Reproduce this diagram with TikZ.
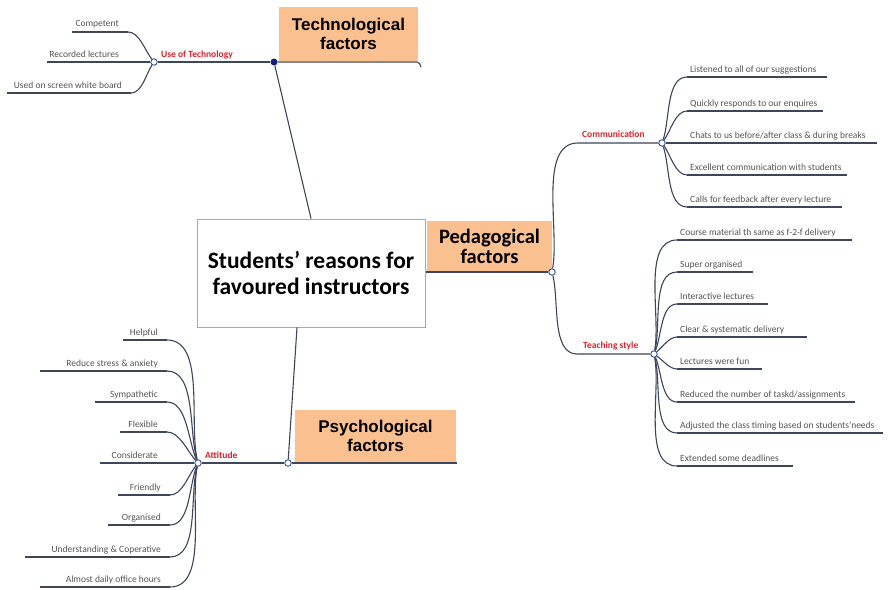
\documentclass[tikz,border=0pt]{standalone}
\usepackage{fontspec}
\setmainfont{Carlito}
\newfontfamily\hdr{Liberation Sans}
\definecolor{leafc}{RGB}{85,85,85}
\definecolor{linec}{RGB}{62,70,92}
\definecolor{redc}{RGB}{222,32,42}
\definecolor{orangec}{RGB}{250,192,143}
\definecolor{hubc}{RGB}{48,80,165}
\definecolor{dotc}{RGB}{22,32,120}
\definecolor{boxc}{RGB}{170,170,170}
% right-hand leaf: name, hub, hx, hy, x0, x1, y, text
\newcommand\leafR[8]{%
  \pgfmathsetmacro\leafang{atan2(#4-#7,(#5-#3)*0.9)}%
  \coordinate (#1s) at (#5,#7);
  \coordinate (#1e) at (#6,#7);
  \node[leaf, anchor=base west] (#1) at (#5+3,#7-5) {#8};
  \draw[branch] (#1s) -- (#1e);
  \draw[branch] (#2) to[out=\leafang, in=180, looseness=0.8] (#1s);
}
% left-hand leaf: name, hub, hx, hy, x0, x1, y, text
\newcommand\leafL[8]{%
  \pgfmathsetmacro\leafang{atan2(#4-#7,(#6-#3)*0.9)}%
  \coordinate (#1s) at (#5,#7);
  \coordinate (#1e) at (#6,#7);
  \node[leaf, anchor=base east] (#1) at (#6-9,#7-5) {#8};
  \draw[branch] (#1s) -- (#1e);
  \draw[branch] (#2) to[out=\leafang, in=0, looseness=0.8] (#1e);
}
\begin{document}
\begin{tikzpicture}[x=1pt,y=-1pt,
  branch/.style={draw=linec, line width=1.1pt},
  leaf/.style={font=\fontsize{9.5}{11}\selectfont, text=leafc, inner sep=0pt},
  cat/.style={font=\bfseries\fontsize{9.5}{11}\selectfont, text=redc, inner sep=0pt},
  hub/.style={circle, draw=hubc, fill=white, line width=0.9pt, minimum size=6.5pt, inner sep=0pt},
  factor/.style={fill=orangec, align=center, inner sep=0pt},
  hdrtext/.style={font=\hdr\bfseries\fontsize{17}{19}\selectfont},
]
\useasboundingbox[fill=white] (0,0) rectangle (888,589);

% central topic and factor boxes
\node[draw=boxc, line width=1pt, fill=white, minimum width=228pt, minimum height=108pt,
      align=center, font=\bfseries\fontsize{23.5}{26}\selectfont] (center) at (311,273)
      {Students’ reasons for\\favoured instructors};
\node[factor, hdrtext, minimum width=139pt, minimum height=54pt] (tech) at (348.5,34)
      {Technological\\factors};
\node[factor, font=\bfseries\fontsize{20.5}{20}\selectfont, minimum width=125pt, minimum height=51pt] (ped) at (489.5,246.5)
      {Pedagogical\\factors};
\node[factor, hdrtext, minimum width=161pt, minimum height=52pt] (psych) at (375.5,436)
      {Psychological\\factors};

% hubs
\node[circle, fill=dotc, minimum size=7pt, inner sep=0pt] (techdot) at (274,62) {};
\node[hub] (pedhub) at (552,272) {};
\node[hub] (psychhub) at (288,463) {};
\node[hub] (usetech) at (154,62) {};
\node[hub] (att) at (198,463) {};
\node[hub] (comm) at (662,143) {};
\node[hub] (teach) at (654,354) {};

% main connectors
\coordinate (techend) at (417,62);
\coordinate (techtail) at (421,67);
\coordinate (psychend) at (457,463);
\draw[branch] (techdot) -- (techend) to[out=0,in=110] (techtail);
\draw[branch] (techdot) -- (center.north);
\draw[branch] ([xshift=-14pt]center.south) -- (psychhub);
\draw[branch] (pedhub -| center.east) -- (pedhub);
\draw[branch] (psychhub) -- (psychend);

% category branches
\node[cat, anchor=base west] (usetechlbl) at (161,57) {Use of Technology};
\draw[branch] (techdot) -- (usetech);
\node[cat, anchor=base west] (attlbl) at (205,458) {Attitude};
\draw[branch] (psychhub) -- (att);
\coordinate (commS) at (578,143);
\coordinate (teachS) at (577,354);
\node[cat, anchor=base west] (commlbl) at (582,137) {Communication};
\node[cat, anchor=base west] (teachlbl) at (583,348) {Teaching style};
\draw[branch] (pedhub) to[out=80,in=180,looseness=0.8] (commS) -- (comm);
\draw[branch] (pedhub) to[out=-76,in=180,looseness=0.8] (teachS) -- (teach);

% communication leaves
\leafR{c1}{comm}{662}{143}{687}{827}{77}{Listened to all of our suggestions}
\leafR{c2}{comm}{662}{143}{687}{823}{111}{Quickly responds to our enquires}
\leafR{c3}{comm}{662}{143}{687}{877}{143}{Chats to us before/after class \& during breaks}
\leafR{c4}{comm}{662}{143}{687}{847}{175}{Excellent communication with students}
\leafR{c5}{comm}{662}{143}{687}{842}{207}{Calls for feedback after every lecture}

% teaching style leaves
\leafR{t1}{teach}{654}{354}{677}{852}{240}{Course material th same as f-2-f delivery}
\leafR{t2}{teach}{654}{354}{677}{753}{272}{Super organised}
\leafR{t3}{teach}{654}{354}{677}{768}{304}{Interactive lectures}
\leafR{t4}{teach}{654}{354}{677}{807}{337}{Clear \& systematic delivery}
\leafR{t5}{teach}{654}{354}{677}{762}{369}{Lectures were fun}
\leafR{t6}{teach}{654}{354}{677}{855}{402}{Reduced the number of taskd/assignments}
\leafR{t7}{teach}{654}{354}{677}{883}{433}{Adjusted the class timing based on students'needs}
\leafR{t8}{teach}{654}{354}{677}{793}{466}{Extended some deadlines}

% use of technology leaves
\leafL{u1}{usetech}{154}{62}{72}{128}{32}{Competent}
\leafL{u2}{usetech}{154}{62}{47}{128}{62}{Recorded lectures}
\leafL{u3}{usetech}{154}{62}{7}{131}{93}{Used on screen white board}

% attitude leaves
\leafL{a1}{att}{198}{463}{123}{167}{340}{Helpful}
\leafL{a2}{att}{198}{463}{40}{167}{371}{Reduce stress \& anxiety}
\leafL{a3}{att}{198}{463}{95}{167}{402}{Sympathetic}
\leafL{a4}{att}{198}{463}{120}{167}{432}{Flexible}
\leafL{a5}{att}{198}{463}{100}{167}{463}{Considerate}
\leafL{a6}{att}{198}{463}{118}{170}{495}{Friendly}
\leafL{a7}{att}{198}{463}{108}{170}{525}{Organised}
\leafL{a8}{att}{198}{463}{25}{170}{557}{Understanding \& Coperative}
\leafL{a9}{att}{198}{463}{40}{170}{587}{Almost daily office hours}
\end{tikzpicture}
\end{document}
